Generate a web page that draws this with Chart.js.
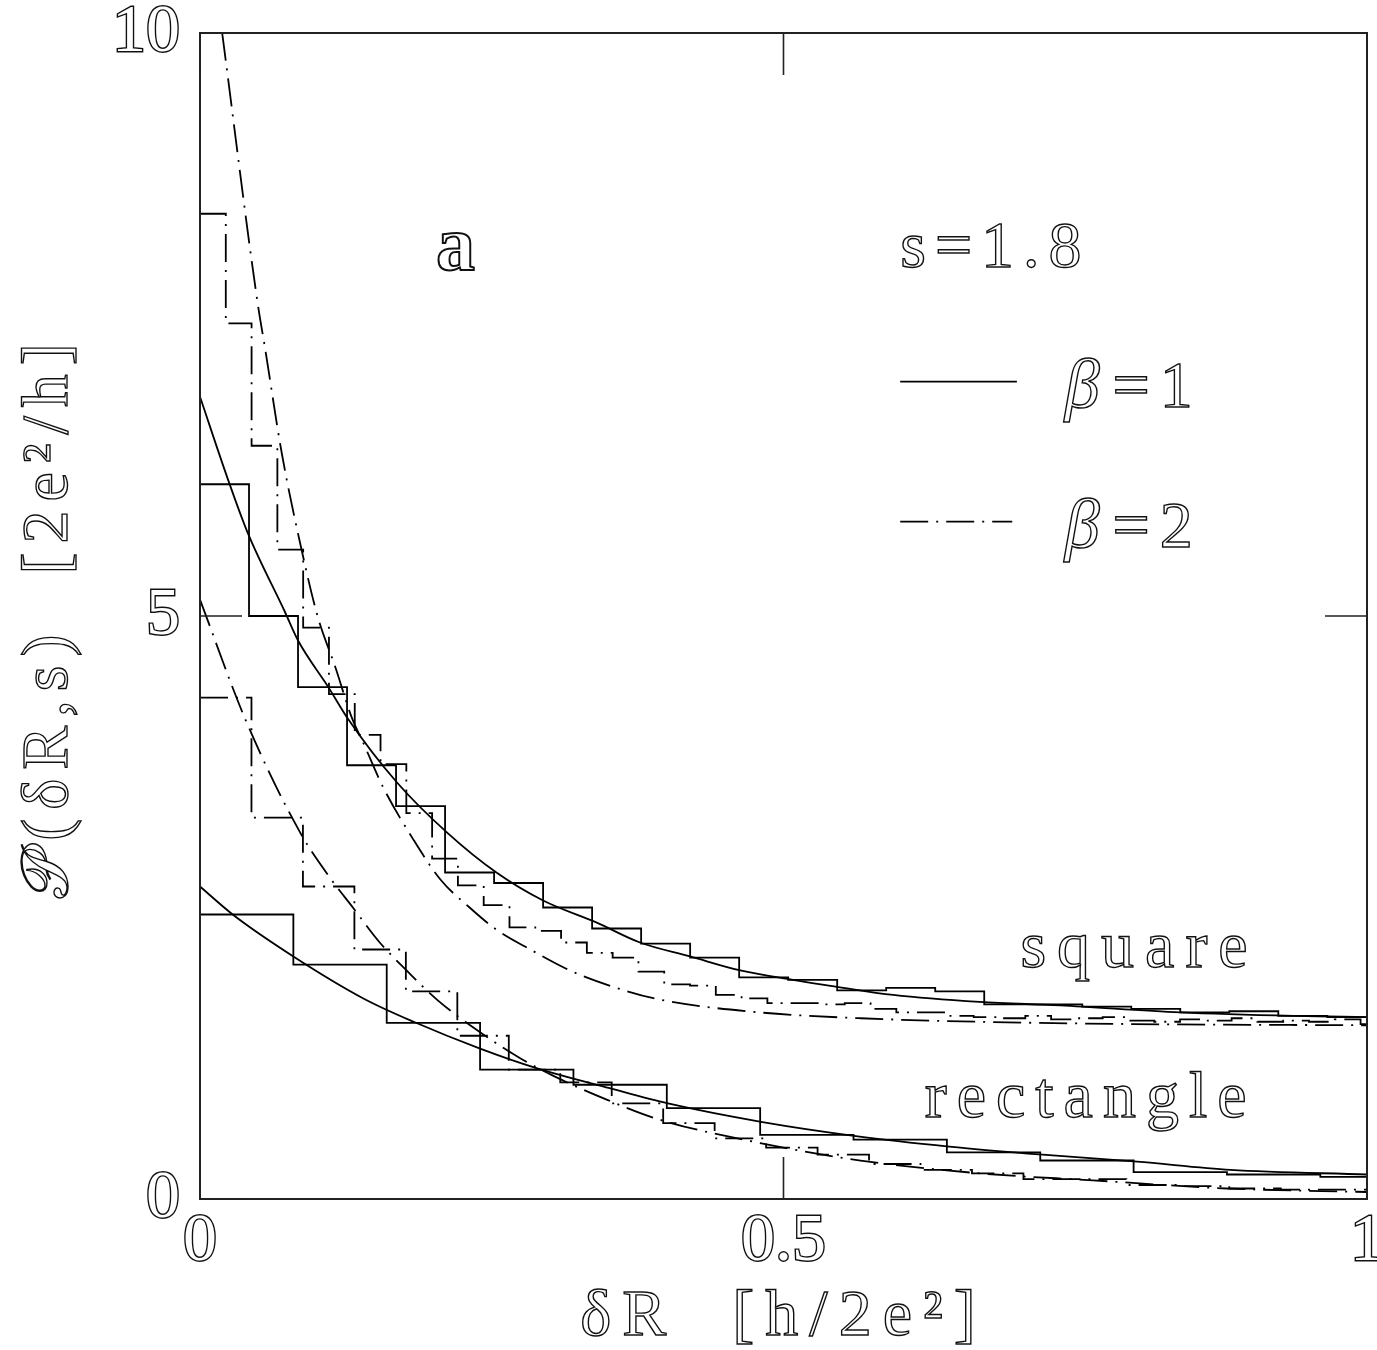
<!DOCTYPE html>
<html>
<head>
<meta charset="utf-8">
<script src="https://cdn.jsdelivr.net/npm/chart.js@4.4.1/dist/chart.umd.min.js"></script>
<style>
  html, body { margin: 0; padding: 0; background: #fff; }
  #wrap { width: 1377px; height: 1350px; position: relative; }
</style>
</head>
<body>
<div id="wrap"><canvas id="fluct"></canvas></div>
<script>
// axis ticks
const xTickValues = [0, 0.5, 1];
const yTickValues = [0, 5, 10];

// histograms (bin heights, bins start at 0)
const squareBeta1BinWidth = 0.042;
const squareBeta1Hist = [6.13, 5.00, 4.39, 3.72, 3.37, 2.80, 2.71, 2.50, 2.32, 2.19, 2.07, 1.90,
    1.88, 1.79, 1.81, 1.78, 1.67, 1.67, 1.65, 1.63, 1.60, 1.61, 1.57, 1.56];

const squareBeta2BinWidth = 0.0221;
const squareBeta2Hist = [8.45, 7.51, 6.46, 5.57, 4.90, 4.33, 3.98, 3.73, 3.31, 2.92, 2.69, 2.52,
    2.33, 2.30, 2.20, 2.11, 2.07, 1.95, 1.84, 1.83, 1.75, 1.72, 1.68, 1.68, 1.67, 1.68, 1.63,
    1.60, 1.60, 1.57, 1.56, 1.55, 1.57, 1.54, 1.55, 1.56, 1.53, 1.52, 1.54, 1.53, 1.55, 1.52,
    1.53, 1.52, 1.54, 1.50];

const rectBeta1BinWidth = 0.08;
const rectBeta1Hist = [2.44, 2.01, 1.51, 1.11, 0.98, 0.78, 0.55, 0.51, 0.40, 0.33, 0.23, 0.21, 0.19];

const rectBeta2BinWidth = 0.0441;
const rectBeta2Hist = [4.30, 3.27, 2.68, 2.14, 1.78, 1.40, 1.11, 1.00, 0.82, 0.65, 0.52, 0.44,
    0.38, 0.30, 0.25, 0.22, 0.17, 0.17, 0.12, 0.11, 0.09, 0.08, 0.08];

// theory curves
const squareBeta1CurveX = [0, 0.024, 0.041, 0.073, 0.084, 0.110, 0.126, 0.169, 0.212, 0.254, 0.294,
    0.340, 0.377, 0.420, 0.463, 0.508, 0.546, 0.594, 0.668, 0.737, 0.840, 0.937, 1.0];
const squareBeta1CurveY = [6.88, 6.17, 5.71, 5.03, 4.79, 4.39, 4.13, 3.57, 3.14, 2.80, 2.56,
    2.37, 2.20, 2.08, 1.96, 1.88, 1.82, 1.75, 1.69, 1.66, 1.60, 1.57, 1.56];

const squareBeta2CurveX = [0.019, 0.049, 0.056, 0.070, 0.087, 0.101, 0.116, 0.130, 0.140, 0.157, 0.183,
    0.206, 0.231, 0.254, 0.283, 0.317, 0.354, 0.394, 0.480, 0.566, 0.668, 0.8, 1.0];
const squareBeta2CurveY = [10.0, 7.71, 7.28, 6.40, 5.57, 4.99, 4.56, 4.13, 3.91, 3.53, 3.08,
    2.74, 2.50, 2.31, 2.14, 1.96, 1.82, 1.71, 1.60, 1.55, 1.52, 1.50, 1.49];

const rectBeta1CurveX = [0, 0.028, 0.080, 0.140, 0.183, 0.240, 0.289, 0.351, 0.401, 0.482, 0.562,
    0.642, 0.722, 0.803, 0.883, 1.0];
const rectBeta1CurveY = [2.68, 2.44, 2.08, 1.72, 1.52, 1.29, 1.12, 0.95, 0.82, 0.66, 0.54,
    0.45, 0.38, 0.32, 0.25, 0.21];

const rectBeta2CurveX = [0, 0.039, 0.086, 0.111, 0.131, 0.154, 0.177, 0.203, 0.240, 0.274, 0.302,
    0.349, 0.394, 0.480, 0.566, 0.668, 0.765, 0.880, 1.0];
const rectBeta2CurveY = [5.14, 4.11, 3.14, 2.76, 2.50, 2.20, 1.96, 1.71, 1.43, 1.21, 1.06,
    0.85, 0.68, 0.48, 0.33, 0.22, 0.16, 0.09, 0.06];

const INK = '#000';
const DASHDOT = [28, 8, 2, 8];
const SERIF = '"Liberation Serif", "DejaVu Serif", serif';

function histPoints(width, heights) {
    const pts = heights.map((h, i) => ({ x: i * width, y: h }));
    pts.push({ x: heights.length * width, y: heights[heights.length - 1] });
    return pts;
}

function curvePoints(xs, ys) {
    return xs.map((x, i) => ({ x: x, y: ys[i] }));
}

function histSet(label, pts, dash) {
    return {
        label: label, data: pts, stepped: true, borderColor: INK, borderWidth: 1.8,
        borderDash: dash, pointRadius: 0, fill: false
    };
}

function curveSet(label, pts, dash) {
    return {
        label: label, data: pts, borderColor: INK, borderWidth: 1.8, borderDash: dash,
        pointRadius: 0, fill: false, cubicInterpolationMode: 'monotone'
    };
}

function hollowText(ctx, str, px, py, font, align, spacing, lw) {
    ctx.font = font;
    ctx.textAlign = align;
    ctx.letterSpacing = spacing + 'px';
    ctx.fillStyle = '#fff';
    ctx.strokeStyle = '#111';
    ctx.lineWidth = lw || 1.4;
    ctx.fillText(str, px, py);
    ctx.strokeText(str, px, py);
    return ctx.measureText(str).width;
}

// italic beta followed by upright "=n"
function betaText(ctx, str, px, py) {
    const w = hollowText(ctx, 'β', px, py, 'italic 70px ' + SERIF, 'left', 9);
    hollowText(ctx, str, px + w + 4, py, '66px ' + SERIF, 'left', 10);
}

const decor = {
    id: 'decor',
    afterDraw(chart) {
        const { ctx, chartArea: a, scales: { x, y } } = chart;
        ctx.save();
        // frame
        ctx.strokeStyle = '#222';
        ctx.lineWidth = 2;
        ctx.strokeRect(a.left, a.top, a.right - a.left, a.bottom - a.top);
        // inward ticks on all four sides
        const len = 42;
        ctx.lineWidth = 1.6;
        ctx.beginPath();
        xTickValues.forEach(v => {
            const px = x.getPixelForValue(v);
            ctx.moveTo(px, a.top); ctx.lineTo(px, a.top + len);
            ctx.moveTo(px, a.bottom); ctx.lineTo(px, a.bottom - len);
        });
        yTickValues.forEach(v => {
            const py = y.getPixelForValue(v);
            ctx.moveTo(a.left, py); ctx.lineTo(a.left + len, py);
            ctx.moveTo(a.right, py); ctx.lineTo(a.right - len, py);
        });
        ctx.stroke();

        // legend samples
        ctx.strokeStyle = INK;
        ctx.lineWidth = 1.8;
        ctx.beginPath();
        ctx.moveTo(x.getPixelForValue(0.600), y.getPixelForValue(7.01));
        ctx.lineTo(x.getPixelForValue(0.700), y.getPixelForValue(7.01));
        ctx.stroke();
        ctx.setLineDash(DASHDOT);
        ctx.beginPath();
        ctx.moveTo(x.getPixelForValue(0.600), y.getPixelForValue(5.81));
        ctx.lineTo(x.getPixelForValue(0.696), y.getPixelForValue(5.81));
        ctx.stroke();
        ctx.setLineDash([]);

        // annotations
        ctx.textBaseline = 'alphabetic';
        hollowText(ctx, 'a', x.getPixelForValue(0.219), y.getPixelForValue(7.97), 'bold 78px ' + SERIF, 'center', 0, 2);
        hollowText(ctx, 's=1.8', x.getPixelForValue(0.600), y.getPixelForValue(7.99), '66px ' + SERIF, 'left', 9);
        betaText(ctx, '=1', x.getPixelForValue(0.741), y.getPixelForValue(6.79));
        betaText(ctx, '=2', x.getPixelForValue(0.741), y.getPixelForValue(5.59));
        hollowText(ctx, 'square', x.getPixelForValue(0.703), y.getPixelForValue(1.99), '66px ' + SERIF, 'left', 11);
        hollowText(ctx, 'rectangle', x.getPixelForValue(0.621), y.getPixelForValue(0.70), '66px ' + SERIF, 'left', 10);

        // axis titles
        ctx.textBaseline = 'middle';
        hollowText(ctx, 'δR  [h/2e²]', x.getPixelForValue(0.5), 1318, '66px ' + SERIF, 'center', 11);
        ctx.save();
        ctx.translate(50, y.getPixelForValue(5));
        ctx.rotate(-Math.PI / 2);
        hollowText(ctx, '𝒫(δR,s)  [2e²/h]', 0, 0, '66px ' + SERIF, 'center', 9);
        ctx.restore();
        ctx.restore();
    }
};

const tickFont = { family: SERIF, size: 68 };

new Chart(document.getElementById('fluct').getContext('2d'), {
    type: 'line',
    data: {
        datasets: [
            histSet('square β=1 histogram', histPoints(squareBeta1BinWidth, squareBeta1Hist), []),
            histSet('square β=2 histogram', histPoints(squareBeta2BinWidth, squareBeta2Hist), DASHDOT),
            histSet('rectangle β=1 histogram', histPoints(rectBeta1BinWidth, rectBeta1Hist), []),
            histSet('rectangle β=2 histogram', histPoints(rectBeta2BinWidth, rectBeta2Hist), DASHDOT),
            curveSet('square β=1', curvePoints(squareBeta1CurveX, squareBeta1CurveY), []),
            curveSet('square β=2', curvePoints(squareBeta2CurveX, squareBeta2CurveY), DASHDOT),
            curveSet('rectangle β=1', curvePoints(rectBeta1CurveX, rectBeta1CurveY), []),
            curveSet('rectangle β=2', curvePoints(rectBeta2CurveX, rectBeta2CurveY), DASHDOT)
        ]
    },
    options: {
        responsive: true,
        maintainAspectRatio: false,
        animation: false,
        layout: { autoPadding: false, padding: { top: 33, right: 10, left: 0, bottom: 0 } },
        plugins: { legend: { display: false }, tooltip: { enabled: false } },
        scales: {
            x: {
                type: 'linear', min: 0, max: 1,
                afterFit: s => { s.height = 151; s.paddingLeft = 0; s.paddingRight = 0; },
                afterBuildTicks: s => { s.ticks = xTickValues.map(v => ({ value: v })); },
                ticks: {
                    font: tickFont, color: '#fff', textStrokeColor: '#111', textStrokeWidth: 2.8,
                    padding: 2, maxRotation: 0, autoSkip: false,
                    callback: v => String(v)
                },
                grid: { display: false, drawTicks: false },
                border: { display: false }
            },
            y: {
                type: 'linear', min: 0, max: 10,
                afterFit: s => { s.width = 200; s.paddingTop = 0; s.paddingBottom = 0; },
                afterBuildTicks: s => { s.ticks = yTickValues.map(v => ({ value: v })); },
                ticks: {
                    font: tickFont, color: '#fff', textStrokeColor: '#111', textStrokeWidth: 2.8,
                    padding: 20, autoSkip: false,
                    callback: v => String(v)
                },
                grid: { display: false, drawTicks: false },
                border: { display: false }
            }
        }
    },
    plugins: [decor]
});
</script>
</body>
</html>
